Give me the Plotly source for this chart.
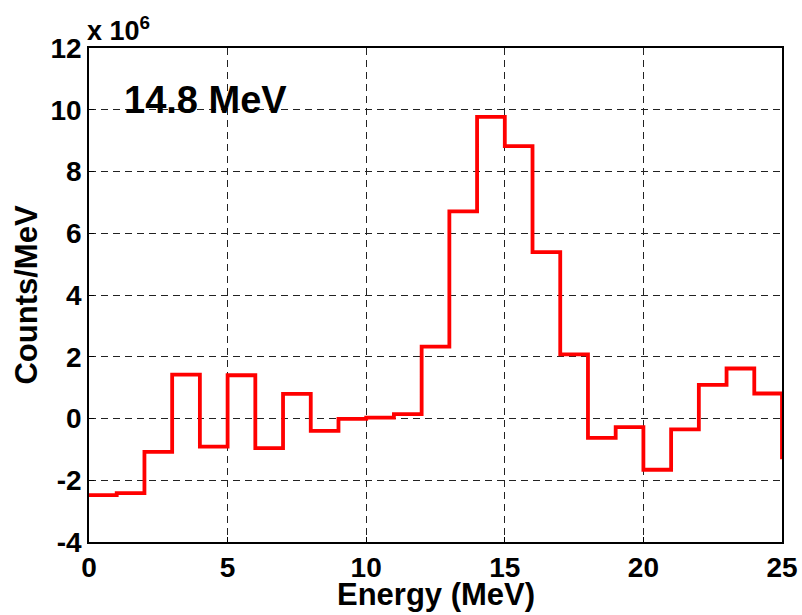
import plotly.graph_objects as go

# bin edges (MeV) and Counts/MeV (x 10^6)
energy_edges = list(range(0, 26))
counts = [-2.48, -2.42, -1.08, 1.42, -0.91, 1.40, -0.96, 0.80, -0.40, -0.01,
          0.03, 0.14, 2.33, 6.71, 9.77, 8.82, 5.39, 2.08, -0.63, -0.28,
          -1.66, -0.35, 1.09, 1.62, 0.81, -1.32]

x_ticks = [0, 5, 10, 15, 20, 25]
x_ticktext = ["0", "5", "10", "15", "20", "25"]
y_ticks = [-4, -2, 0, 2, 4, 6, 8, 10, 12]
y_ticktext = ["-4", "-2", "0", "2", "4", "6", "8", "10", "12"]

FONT = "Liberation Sans, Arial, sans-serif"

fig = go.Figure()
fig.add_trace(go.Scatter(
    x=energy_edges, y=counts, mode="lines", line_shape="hv",
    line=dict(color="#ff0000", width=3.8), showlegend=False,
))

axis_common = dict(
    showline=True, linecolor="black", linewidth=1.5, mirror=True,
    showgrid=True, gridcolor="#222222", gridwidth=1, griddash="7px,5px",
    zeroline=False, ticks="inside", ticklen=5, tickcolor="black",
    automargin=False,
    tickfont=dict(family=FONT, size=28, color="black", weight="bold"),
)

fig.update_layout(
    width=802, height=615,
    margin=dict(l=89, r=20, t=48, b=73),
    paper_bgcolor="white", plot_bgcolor="white",
    xaxis=dict(range=[0, 25], tickvals=x_ticks, ticktext=x_ticktext,
               **axis_common),
    yaxis=dict(range=[-4, 12], tickvals=y_ticks, ticktext=y_ticktext,
               title=dict(text="<b>Counts/MeV</b>", standoff=4,
                          font=dict(family=FONT, size=31, color="black")),
               **axis_common),
    annotations=[
        dict(text="<b>Energy (MeV)</b>", xref="paper", yref="paper",
             x=0.5, y=-(73 - 2) / 494, xanchor="center", yanchor="bottom",
             showarrow=False, borderpad=0,
             font=dict(family=FONT, size=31, color="black")),
        dict(text="<b>14.8 MeV</b>", xref="paper", yref="paper",
             x=0.047, y=0.895, xanchor="left", yanchor="middle", showarrow=False,
             font=dict(family=FONT, size=38, color="black")),
        dict(text="<b>x 10<sup>6</sup></b>", xref="paper", yref="paper",
             x=-0.006, y=1.0, xanchor="left", yanchor="bottom", showarrow=False,
             font=dict(family=FONT, size=27, color="black")),
    ],
)

fig.write_html("out.html")
